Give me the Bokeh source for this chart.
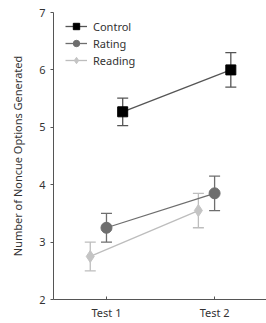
from bokeh.plotting import figure
from bokeh.models import ColumnDataSource, Whisker, Legend, LegendItem, FixedTicker, Range1d
from bokeh.embed import file_html
from bokeh.resources import INLINE

# Mean number of noncue options generated per test, with error margins
tests = ["Test 1", "Test 2"]
groups = ["Control", "Rating", "Reading"]
control_mean = [5.27, 6.00]
control_err = [0.24, 0.30]
rating_mean = [3.25, 3.85]
rating_err = [0.25, 0.30]
reading_mean = [2.75, 3.55]
reading_err = [0.25, 0.30]

means = {"Control": control_mean, "Rating": rating_mean, "Reading": reading_mean}
errs = {"Control": control_err, "Rating": rating_err, "Reading": reading_err}
offsets = {"Control": 0.15, "Rating": 0.0, "Reading": -0.15}
markers = {"Control": "square", "Rating": "circle", "Reading": "diamond"}
fill = {"Control": "#000000", "Rating": "#6e6e6e", "Reading": "#c4c4c4"}
stroke = {"Control": "#555555", "Rating": "#6e6e6e", "Reading": "#bdbdbd"}
msize = {"Control": 10, "Rating": 11, "Reading": 12}

font = "Noto Sans"

p = figure(width=266, height=323, output_backend="svg", toolbar_location=None,
           x_range=Range1d(0.51, 2.48), y_range=Range1d(2, 7),
           min_border_left=53, min_border_right=0, min_border_top=12,
           min_border_bottom=24)
p.outline_line_color = None
p.grid.visible = False
p.background_fill_color = "white"

base_x = list(range(1, len(tests) + 1))
items = []
for g in groups:
    xs = [b + offsets[g] for b in base_x]
    m = means[g]
    e = errs[g]
    src = ColumnDataSource(dict(x=xs, y=m,
                                upper=[a + b for a, b in zip(m, e)],
                                lower=[a - b for a, b in zip(m, e)]))
    ln = p.line("x", "y", source=src, line_color=stroke[g], line_width=1.3)
    w = Whisker(base="x", upper="upper", lower="lower", source=src,
                line_color=stroke[g], line_width=1.3)
    w.upper_head.size = 11
    w.lower_head.size = 11
    w.upper_head.line_color = stroke[g]
    w.lower_head.line_color = stroke[g]
    w.upper_head.line_width = 1.3
    w.lower_head.line_width = 1.3
    p.add_layout(w)
    sc = p.scatter("x", "y", source=src, marker=markers[g], size=msize[g],
                   fill_color=fill[g], line_color=fill[g])
    items.append(LegendItem(label=g, renderers=[ln, sc]))

legend = Legend(items=items, location=(12, 231), orientation="vertical",
                glyph_width=22, glyph_height=16, spacing=1, padding=0, margin=0,
                label_standoff=6, border_line_color=None,
                background_fill_alpha=0, label_text_font=font,
                label_text_font_size="11px", label_text_color="#333333")
p.add_layout(legend, "center")

p.xaxis.ticker = FixedTicker(ticks=base_x)
p.xaxis.major_label_overrides = {b: t for b, t in zip(base_x, tests)}
p.xaxis.major_tick_in = 3
p.xaxis.major_tick_out = 0
p.xaxis.minor_tick_line_color = None
p.yaxis.ticker = FixedTicker(ticks=[2, 3, 4, 5, 6, 7])
p.yaxis.major_tick_in = 0
p.yaxis.major_tick_out = 3
p.yaxis.minor_tick_line_color = None
p.yaxis.axis_label = "Number of Noncue Options Generated"
p.yaxis.axis_label_standoff = 11

for ax in (p.xaxis, p.yaxis):
    ax.axis_line_color = "#555555"
    ax.major_tick_line_color = "#555555"
    ax.major_label_text_font = font
    ax.major_label_text_font_size = "11px"
    ax.major_label_text_color = "#333333"
    ax.axis_label_text_font = font
    ax.axis_label_text_font_size = "11px"
    ax.axis_label_text_font_style = "normal"
    ax.axis_label_text_color = "#333333"

open("out.html", "w").write(file_html(p, INLINE))
